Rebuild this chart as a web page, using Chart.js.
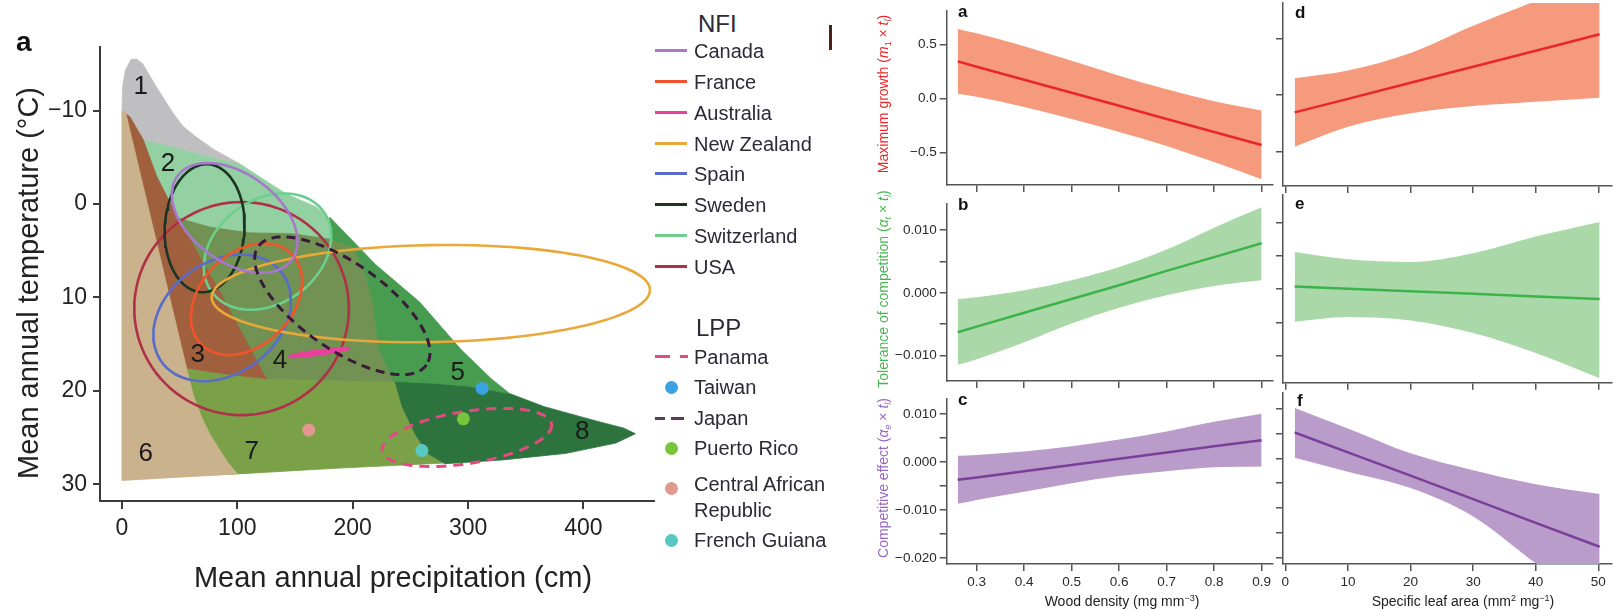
<!DOCTYPE html>
<html lang="en">
<head>
<meta charset="utf-8">
<title>Biomes and trait effects</title>
<script src="https://cdn.jsdelivr.net/npm/chart.js@4.4.1/dist/chart.umd.min.js"></script>
<style>
  html, body { margin: 0; padding: 0; background: #fff; }
  body { position: relative; width: 1614px; height: 610px; overflow: hidden;
         font-family: "Liberation Sans", Arial, Helvetica, sans-serif; color: #222; }
  canvas { position: absolute; }
  .t { position: absolute; white-space: nowrap; }
  .rot { transform: translate(-50%, -50%) rotate(-90deg); }
  .mid { transform: translate(-50%, -50%); }
  .tag { font-weight: bold; font-size: 17px; line-height: 17px; color: #111; }
  .leg { font-size: 20px; line-height: 20px; color: #2a2b36; }
  .head { font-size: 24px; line-height: 24px; color: #2a2b36; }
  .key { position: absolute; height: 3px; }
  .dot { position: absolute; width: 13px; height: 13px; border-radius: 50%; }
  .yt { font-size: 14px; }
  .yt sub { font-size: 9px; }
  .xt { font-size: 14px; }
  .xt sup { font-size: 9px; }
</style>
</head>
<body>
<canvas id="biomes" width="660" height="610" style="left:0;top:0"></canvas>
<canvas id="pa" width="406" height="196" style="left:870px;top:0"></canvas>
<canvas id="pb" width="406" height="199" style="left:870px;top:193px"></canvas>
<canvas id="pc" width="406" height="222" style="left:870px;top:388px"></canvas>
<canvas id="pd" width="338" height="196" style="left:1276px;top:0"></canvas>
<canvas id="pe" width="338" height="199" style="left:1276px;top:193px"></canvas>
<canvas id="pf" width="338" height="222" style="left:1276px;top:388px"></canvas>

<div class="t" style="left:16px;top:28px;font-weight:bold;font-size:28px;line-height:28px;color:#111">a</div>
<div class="t rot" style="left:28px;top:283px;font-size:29px">Mean annual temperature (°C)</div>
<div class="t mid" style="left:393px;top:577px;font-size:29px">Mean annual precipitation (cm)</div>

<!-- legend -->
<div class="t head" style="left:698px;top:12px">NFI</div>
<div class="key" style="left:655px;top:49px;width:32px;background:#a878cc"></div>
<div class="t leg" style="left:694px;top:41px">Canada</div>
<div class="key" style="left:655px;top:80px;width:32px;background:#f0542c"></div>
<div class="t leg" style="left:694px;top:72px">France</div>
<div class="key" style="left:655px;top:111px;width:32px;background:#e8409c"></div>
<div class="t leg" style="left:694px;top:103px">Australia</div>
<div class="key" style="left:655px;top:142px;width:32px;background:#e8a83a"></div>
<div class="t leg" style="left:694px;top:134px">New Zealand</div>
<div class="key" style="left:655px;top:172px;width:32px;background:#5a6cc8"></div>
<div class="t leg" style="left:694px;top:164px">Spain</div>
<div class="key" style="left:655px;top:203px;width:32px;background:#1c3426"></div>
<div class="t leg" style="left:694px;top:195px">Sweden</div>
<div class="key" style="left:655px;top:234px;width:32px;background:#6ccf8e"></div>
<div class="t leg" style="left:694px;top:226px">Switzerland</div>
<div class="key" style="left:655px;top:265px;width:32px;background:#b03048"></div>
<div class="t leg" style="left:694px;top:257px">USA</div>

<div class="t head" style="left:696px;top:316px">LPP</div>
<div class="key" style="left:655px;top:355px;width:15px;background:#e44a82"></div>
<div class="key" style="left:680px;top:355px;width:8px;background:#e44a82"></div>
<div class="t leg" style="left:694px;top:347px">Panama</div>
<div class="dot" style="left:665px;top:381px;background:#3ba2e2"></div>
<div class="t leg" style="left:694px;top:377px">Taiwan</div>
<div class="key" style="left:655px;top:417px;width:10px;background:#5a3a5e"></div>
<div class="key" style="left:671px;top:417px;width:13px;background:#5a3a5e"></div>
<div class="t leg" style="left:694px;top:408px">Japan</div>
<div class="dot" style="left:665px;top:442px;background:#78c43c"></div>
<div class="t leg" style="left:694px;top:438px">Puerto Rico</div>
<div class="dot" style="left:665px;top:482px;background:#e0988f"></div>
<div class="t leg" style="left:694px;top:472px;line-height:25.6px">Central African<br>Republic</div>
<div class="dot" style="left:665px;top:534px;background:#58c8c0"></div>
<div class="t leg" style="left:694px;top:530px">French Guiana</div>
<div class="t" style="left:829px;top:25px;width:3px;height:25px;background:#4a2412"></div>

<!-- right hand panels: letters and axis titles -->
<div class="t tag" style="left:958px;top:3px">a</div>
<div class="t tag" style="left:958px;top:196px">b</div>
<div class="t tag" style="left:958px;top:391px">c</div>
<div class="t tag" style="left:1295px;top:4px">d</div>
<div class="t tag" style="left:1295px;top:195px">e</div>
<div class="t tag" style="left:1297px;top:392px">f</div>
<div class="t rot yt" style="left:884px;top:94px;color:#e8282c">Maximum growth (<i>m</i><sub>1</sub> × <i>t</i><sub><i>l</i></sub>)</div>
<div class="t rot yt" style="left:884px;top:289px;color:#49b453">Tolerance of competition (<i>α</i><sub><i>t</i></sub> × <i>t</i><sub><i>l</i></sub>)</div>
<div class="t rot yt" style="left:884px;top:478px;color:#9966c2">Competitive effect (<i>α</i><sub><i>e</i></sub> × <i>t</i><sub><i>l</i></sub>)</div>
<div class="t mid xt" style="left:1122px;top:601px">Wood density (mg mm<sup>−3</sup>)</div>
<div class="t mid xt" style="left:1463px;top:601px">Specific leaf area (mm<sup>2</sup> mg<sup>−1</sup>)</div>

<script>
Chart.defaults.font.family = '"Liberation Sans", Arial, Helvetica, sans-serif';
Chart.defaults.color = '#222';

// ---- panel a: biomes, points are [precipitation cm, temperature °C]
const tropicalSeasonal = [[40, 17.4], [125, 18.7], [236, 19], [260, 19.2], [285, 27.7], [185, 28.3], [100, 28.9], [60, 29.1]];
const temperateSeasonal = [[30, -2], [100, 2], [181, 3.2], [200, 4.6], [210, 7], [217, 10.3], [223, 15.6], [236, 19], [125, 18.7]];
const tropicalRain = [[236, 18.7], [300, 19.1], [336, 20.3], [366, 21.7], [410, 23.2], [435, 24], [445, 24.6], [428, 25.6],
  [385, 26.7], [330, 27.4], [280, 27.8], [265, 26.7], [254, 24.6], [243, 21.7]];
const temperateRain = [[180, 1.4], [220, 6.5], [258, 10.5], [294, 15.6], [320, 18.7], [336, 20.3], [300, 19.5], [270, 19.2],
  [236, 19], [223, 15.6], [217, 10.3], [210, 7], [200, 4.6], [181, 3.7]];
const borealForest = [[8, -8.5], [18, -6.9], [40, -6.3], [67, -5.4], [102, -4.3], [142, -1.1], [168, 0.3], [178, 1.3],
  [181, 3.7], [148, 3.1], [110, 3], [76, 2.4], [48, 1.4], [25, -4]];
const tundra = [[0, -9.7], [0.5, -12.5], [3, -14.3], [8, -15.5], [13, -15.5], [18, -15], [30, -12.5], [45, -9.6], [53, -8.3],
  [65, -7.1], [80, -5.8], [102, -4.3], [67, -5.4], [40, -6.3], [18, -6.9], [6, -9]];
const woodland = [[3, -9.7], [7, -9.3], [18.4, -6.9], [30, -3], [48, 1.4], [87, 9.9], [125, 18.7], [90, 18.2], [56, 17.6]];
const desert = [[0, -9.9], [3, -9.9], [56, 17.6], [62, 20.5], [69, 22.8], [76, 24.6], [83, 26], [92, 27.7], [100, 28.9], [0, 29.6]];

const biomeLabels = ['1', '2', '3', '4', '5', '6', '7', '8'];
const biomeLabelCm = [16.4, 40, 65.7, 137, 291, 20.7, 112.4, 399];
const biomeLabelT = [-12.5, -4.3, 16.2, 16.8, 18.1, 26.8, 26.5, 24.4];

const precipTicks = [0, 100, 200, 300, 400];
const tempTicks = [-10, 0, 10, 20, 30];

// NFI climate ellipses: centre, half axes (in cm-equivalents), tilt in degrees
const nfiNames = ['Canada', 'France', 'Australia', 'New Zealand', 'Spain', 'Sweden', 'Switzerland', 'USA'];
const nfiCentreCm = [97.7, 108, 171, 267.7, 86.9, 71.7, 126.2, 103.7];
const nfiCentreT = [1.5, 10.2, 15.9, 9.6, 12.2, 2.6, 5.1, 11.2];
const nfiMajor = [61.4, 55.3, 26.8, 190, 64.8, 55.3, 59.6, 93];
const nfiMinor = [38, 39.8, 2.2, 41.9, 48.4, 34.6, 44.9, 92];
const nfiTilt = [36, -45, -8, -1, -36, 93, -35, 0];

const lppRingNames = ['Panama', 'Japan'];
const lppRingCm = [299, 191];
const lppRingT = [25.0, 10.9];
const lppRingMajor = [74.3, 89];
const lppRingMinor = [22.5, 37.2];
const lppRingTilt = [-9, 35];

const lppPointNames = ['Taiwan', 'Puerto Rico', 'Central African Republic', 'French Guiana'];
const lppPointCm = [312.2, 295.9, 161.9, 260];
const lppPointT = [19.75, 23.0, 24.2, 26.4];

// ---- panels a-f: fitted effect (mean) with its band
const woodDensity = [0.26, 0.3, 0.4, 0.5, 0.6, 0.7, 0.8, 0.9];
const growthWdLo = [0.044, 0.015, -0.08, -0.19, -0.31, -0.44, -0.59, -0.75];
const growthWdMid = [0.344, 0.295, 0.174, 0.053, -0.068, -0.19, -0.311, -0.432];
const growthWdHi = [0.646, 0.605, 0.485, 0.35, 0.21, 0.085, -0.025, -0.112];
const toleranceWdLo = [-0.0115, -0.0106, -0.0079, -0.0049, -0.0024, -0.0004, 0.0011, 0.002];
const toleranceWdMid = [-0.0063, -0.0054, -0.0032, -0.001, 0.0012, 0.0035, 0.0057, 0.0079];
const toleranceWdHi = [-0.001, -0.0007, 0.0004, 0.002, 0.0041, 0.0069, 0.0104, 0.01366];
const effectWdLo = [-0.0087, -0.0079, -0.0062, -0.0044, -0.0029, -0.0019, -0.0011, -0.0009];
const effectWdMid = [-0.0037, -0.0032, -0.0019, -0.0006, 0.0007, 0.002, 0.0033, 0.00455];
const effectWdHi = [0.0013, 0.0015, 0.0022, 0.0033, 0.0047, 0.0064, 0.0084, 0.0101];

const leafArea = [1.5, 10, 20, 30, 40, 50.2];
const growthSlaLo = [-0.456, -0.28, -0.161, -0.097, -0.059, -0.024];
const growthSlaMid = [-0.153, -0.034, 0.108, 0.249, 0.39, 0.535];
const growthSlaHi = [0.147, 0.215, 0.37, 0.61, 0.83, 1.06];
const toleranceSlaLo = [-0.0049, -0.0042, -0.0047, -0.0066, -0.0096, -0.0134];
const toleranceSlaMid = [0.0004, 0.00007, -0.00032, -0.00071, -0.0011, -0.0015];
const toleranceSlaHi = [0.0056, 0.0045, 0.0041, 0.0054, 0.0079, 0.0101];
const effectSlaLo = [0.0001, -0.0027, -0.006, -0.0117, -0.0211, -0.03];
const effectSlaMid = [0.0052, 0.0012, -0.0035, -0.0082, -0.013, -0.0178];
const effectSlaHi = [0.0101, 0.006, 0.001, -0.0024, -0.0052, -0.0072];

const wdTicks = [0.3, 0.4, 0.5, 0.6, 0.7, 0.8, 0.9];
const wdLabels = ['0.3', '0.4', '0.5', '0.6', '0.7', '0.8', '0.9'];
const slaTicks = [0, 10, 20, 30, 40, 50];
const slaLabels = ['0', '10', '20', '30', '40', '50'];
const growthTicks = [-0.5, 0, 0.5];
const growthLabels = ['\u22120.5', '0.0', '0.5'];
const toleranceTicks = [-0.01, -0.005, 0, 0.005, 0.01];
const toleranceLabels = ['\u22120.010', '', '0.000', '', '0.010'];
const effectTicks = [-0.02, -0.015, -0.01, -0.005, 0, 0.005, 0.01];
const effectLabels = ['\u22120.020', '', '\u22120.010', '', '0.000', '', '0.010'];

// ---- styles
const biomeColors = { tropicalSeasonal: '#7aa048', temperateSeasonal: '#719252', tropicalRain: '#2c733e',
  temperateRain: '#489c50', borealForest: '#93d1a2', tundra: '#bfbfc2', woodland: '#a0603e', desert: '#c9b28c' };
const nfiColors = ['#a878cc', '#f0542c', '#e8409c', '#e8a83a', '#5a6cc8', '#1c3426', '#6ccf8e', '#b03048'];
const lppRingColors = ['#e44a82', '#3a1a3c'];
const lppPointColors = ['#3ba2e2', '#78c43c', '#e0988f', '#58c8c0'];

const K = 9.33 / 1.157; // cm of precipitation that span one °C on screen

const xy = arr => arr.map(p => ({ x: p[0], y: p[1] }));
const closed = arr => xy(arr.concat([arr[0]]));

function ellipse(cx, cy, a, b, deg) {
  const out = [], r = deg * Math.PI / 180;
  for (let i = 0; i <= 96; i++) {
    const t = i / 96 * 2 * Math.PI;
    const u = a * Math.cos(t), v = b * Math.sin(t);
    out.push({ x: cx + u * Math.cos(r) - v * Math.sin(r), y: cy + (u * Math.sin(r) + v * Math.cos(r)) / K });
  }
  return out;
}

const polygon = (pts, color, order) => ({
  data: closed(pts), backgroundColor: color, borderColor: color, borderWidth: 0.8,
  fill: 'shape', pointRadius: 0, tension: 0, order
});

const biomeSets = [
  polygon(tropicalSeasonal, biomeColors.tropicalSeasonal, 20),
  polygon(temperateSeasonal, biomeColors.temperateSeasonal, 19),
  polygon(tropicalRain, biomeColors.tropicalRain, 18),
  polygon(temperateRain, biomeColors.temperateRain, 17),
  polygon(borealForest, biomeColors.borealForest, 16),
  polygon(tundra, biomeColors.tundra, 15),
  polygon(woodland, biomeColors.woodland, 14),
  polygon(desert, biomeColors.desert, 13)
];

const nfiSets = nfiNames.map((n, i) => {
  const ds = { label: n, data: ellipse(nfiCentreCm[i], nfiCentreT[i], nfiMajor[i], nfiMinor[i], nfiTilt[i]),
    borderColor: nfiColors[i], borderWidth: 2.6, pointRadius: 0, fill: false, order: 3 };
  if (n === 'Australia') { ds.fill = 'shape'; ds.backgroundColor = nfiColors[i]; ds.borderWidth = 1.5; }
  return ds;
});

const ringSets = lppRingNames.map((n, i) => ({
  label: n, data: ellipse(lppRingCm[i], lppRingT[i], lppRingMajor[i], lppRingMinor[i], lppRingTilt[i]),
  borderColor: lppRingColors[i], borderWidth: 3, borderDash: i === 0 ? [10, 7] : [9, 6],
  pointRadius: 0, fill: false, order: 2
}));

const pointSets = lppPointNames.map((n, i) => ({
  label: n, data: [{ x: lppPointCm[i], y: lppPointT[i] }], showLine: false,
  pointRadius: 6.5, pointBackgroundColor: lppPointColors[i], pointBorderWidth: 0, order: 0
}));

const numberPlugin = {
  id: 'biomeNumbers',
  afterDatasetsDraw(chart) {
    const { ctx, scales } = chart;
    ctx.save();
    ctx.font = '26px "Liberation Sans", Arial, sans-serif';
    ctx.fillStyle = '#1b1b1b';
    ctx.textAlign = 'center';
    ctx.textBaseline = 'middle';
    biomeLabels.forEach((s, i) => {
      ctx.fillText(s, scales.x.getPixelForValue(biomeLabelCm[i]), scales.y.getPixelForValue(biomeLabelT[i]));
    });
    ctx.restore();
  }
};

const darkAxis = '#3a3a3a';
new Chart(document.getElementById('biomes'), {
  type: 'line',
  data: { datasets: biomeSets.concat(nfiSets, ringSets, pointSets) },
  options: {
    responsive: false, animation: false, events: [],
    layout: { padding: { top: 47, right: 5, left: 0, bottom: 0 } },
    plugins: { legend: { display: false }, tooltip: { enabled: false } },
    scales: {
      x: {
        type: 'linear', min: -19, max: 460.7,
        afterBuildTicks: s => { s.ticks = precipTicks.map(v => ({ value: v })); },
        afterFit: s => { s.height = 109; },
        ticks: { font: { size: 23 }, color: '#222', padding: 6, maxRotation: 0, autoSkip: false },
        grid: { drawOnChartArea: false, tickLength: 8, color: darkAxis, lineWidth: 2 },
        border: { color: darkAxis, width: 2 }
      },
      y: {
        type: 'linear', reverse: true, min: -16.8, max: 31.8,
        afterBuildTicks: s => { s.ticks = tempTicks.map(v => ({ value: v })); },
        afterFit: s => { s.width = 100; },
        ticks: { font: { size: 23 }, color: '#222', padding: 6, autoSkip: false,
          callback: v => (v < 0 ? '\u2212' + Math.abs(v) : String(v)) },
        grid: { drawOnChartArea: false, tickLength: 7, color: darkAxis, lineWidth: 2 },
        border: { color: darkAxis, width: 2 }
      }
    }
  },
  plugins: [numberPlugin]
});

// ---- small trait panels
const thinAxis = '#555';
function trendPanel(id, xs, lo, mid, hi, bandColor, lineColor, f) {
  const pts = ys => xs.map((x, i) => ({ x, y: ys[i] }));
  new Chart(document.getElementById(id), {
    type: 'line',
    data: {
      datasets: [
        { data: pts(mid), borderColor: lineColor, borderWidth: 2.5, pointRadius: 0, fill: false, order: 0 },
        { data: pts(hi), borderColor: 'transparent', borderWidth: 0, pointRadius: 0, fill: '+1',
          backgroundColor: bandColor, cubicInterpolationMode: 'monotone', order: 1 },
        { data: pts(lo), borderColor: 'transparent', borderWidth: 0, pointRadius: 0, fill: false,
          cubicInterpolationMode: 'monotone', order: 2 }
      ]
    },
    options: {
      responsive: false, animation: false, events: [],
      layout: { padding: { top: f.padTop, right: f.padRight, left: 0, bottom: 0 } },
      plugins: { legend: { display: false }, tooltip: { enabled: false } },
      scales: {
        x: {
          type: 'linear', min: f.xMin, max: f.xMax,
          afterBuildTicks: s => { s.ticks = f.xTicks.map(v => ({ value: v })); },
          afterFit: s => { s.height = f.xH; },
          ticks: { display: !!f.xLabels, callback: (v, i) => (f.xLabels ? f.xLabels[i] : ''),
            font: { size: 13.5 }, color: '#2a2a2a', padding: 3, maxRotation: 0, autoSkip: false },
          grid: { drawOnChartArea: false, tickLength: 7, color: thinAxis, lineWidth: 1.5 },
          border: { color: thinAxis, width: 1.5 }
        },
        y: {
          type: 'linear', min: f.yMin, max: f.yMax,
          afterBuildTicks: s => { s.ticks = f.yTicks.map(v => ({ value: v })); },
          afterFit: s => { s.width = f.yW; },
          ticks: { display: !!f.yLabels, callback: (v, i) => (f.yLabels ? f.yLabels[i] : ''),
            font: { size: 13.5 }, color: '#2a2a2a', padding: 3, autoSkip: false },
          grid: { drawOnChartArea: false, tickLength: 7, color: thinAxis, lineWidth: 1.5 },
          border: { color: thinAxis, width: 1.5 }
        }
      }
    }
  });
}

const colWd = { xMin: 0.2368, xMax: 0.924, xTicks: wdTicks, yW: 76.7, padRight: 3 };
const colSla = { xMin: -0.415, xMax: 52.13, xTicks: slaTicks, yW: 6.7, padRight: 2.3 };
const rowGrowth = { yMin: -0.802, yMax: 0.811, yTicks: growthTicks, padTop: 3, xH: 10 };
const rowTolerance = { yMin: -0.01407, yMax: 0.01416, yTicks: toleranceTicks, padTop: 2, xH: 9.3 };
const rowEffect = { yMin: -0.02127, yMax: 0.01314, yTicks: effectTicks, padTop: 5, xH: 46 };

const red = ['#f59a7c', '#e8262b'], green = ['#aad8a8', '#3cb44b'], purple = ['#ba9cca', '#7b3f9a'];

trendPanel('pa', woodDensity, growthWdLo, growthWdMid, growthWdHi, red[0], red[1],
  Object.assign({}, colWd, rowGrowth, { yLabels: growthLabels }));
trendPanel('pb', woodDensity, toleranceWdLo, toleranceWdMid, toleranceWdHi, green[0], green[1],
  Object.assign({}, colWd, rowTolerance, { yLabels: toleranceLabels }));
trendPanel('pc', woodDensity, effectWdLo, effectWdMid, effectWdHi, purple[0], purple[1],
  Object.assign({}, colWd, rowEffect, { yLabels: effectLabels, xLabels: wdLabels }));
trendPanel('pd', leafArea, growthSlaLo, growthSlaMid, growthSlaHi, red[0], red[1],
  Object.assign({}, colSla, rowGrowth));
trendPanel('pe', leafArea, toleranceSlaLo, toleranceSlaMid, toleranceSlaHi, green[0], green[1],
  Object.assign({}, colSla, rowTolerance));
trendPanel('pf', leafArea, effectSlaLo, effectSlaMid, effectSlaHi, purple[0], purple[1],
  Object.assign({}, colSla, rowEffect, { xLabels: slaLabels }));
</script>
</body>
</html>
